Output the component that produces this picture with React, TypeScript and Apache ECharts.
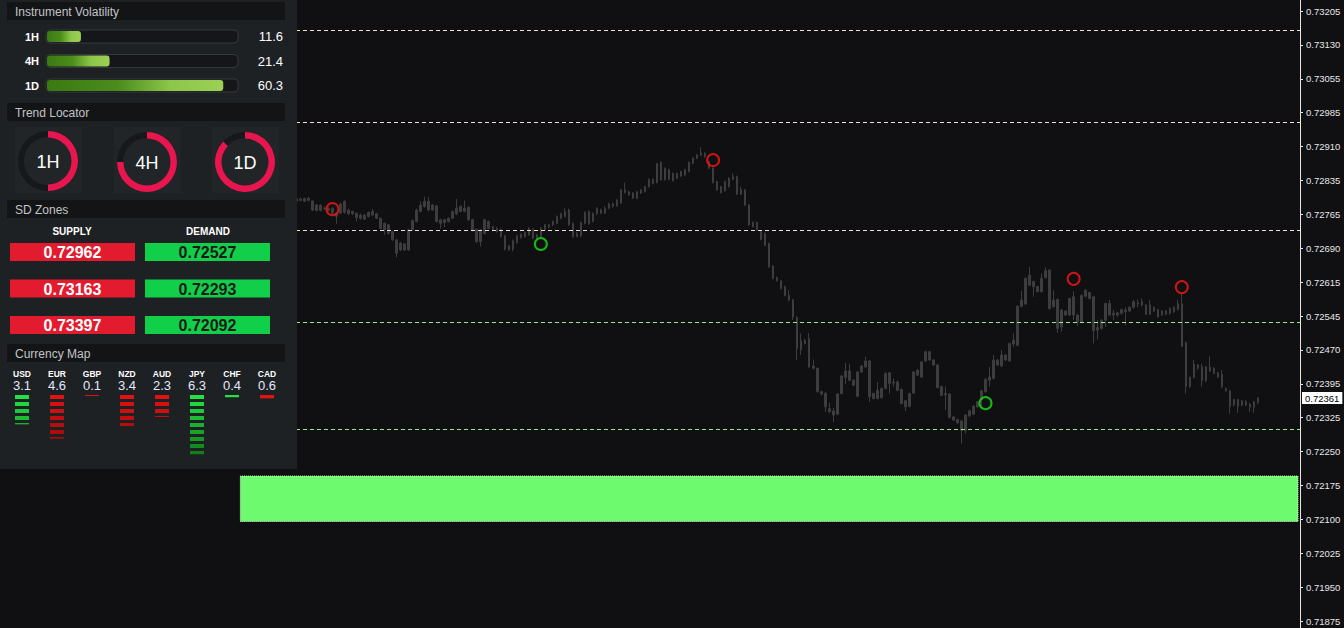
import React, { useEffect, useRef } from 'react';
import * as echarts from 'echarts';

// ---------- data ----------
const yTickLabels = ['0.71875','0.71950','0.72025','0.72100','0.72175','0.72250','0.72325','0.72395','0.72470','0.72545','0.72615','0.72690','0.72765','0.72835','0.72910','0.72985','0.73055','0.73130','0.73205'];
const priceMin = 0.71875;
const priceMax = 0.73205;
const totalBars = 324;
const firstBar = 73;

// [open, close, low, high]
const ohlc: number[][] = [
[0.72796,0.72790,0.72788,0.72798],[0.72792,0.72795,0.72790,0.72798],[0.72796,0.72790,0.72789,0.72798],[0.72792,0.72797,0.72790,0.72799],
[0.72791,0.72771,0.72769,0.72792],[0.72770,0.72782,0.72768,0.72784],[0.72781,0.72770,0.72768,0.72784],[0.72775,0.72774,0.72771,0.72779],
[0.72770,0.72775,0.72768,0.72777],[0.72775,0.72764,0.72761,0.72777],[0.72764,0.72757,0.72741,0.72766],[0.72764,0.72784,0.72763,0.72787],
[0.72766,0.72790,0.72763,0.72792],[0.72771,0.72763,0.72760,0.72774],[0.72768,0.72763,0.72760,0.72770],[0.72764,0.72755,0.72746,0.72766],
[0.72753,0.72760,0.72750,0.72763],[0.72760,0.72751,0.72749,0.72763],[0.72757,0.72766,0.72755,0.72768],[0.72760,0.72768,0.72758,0.72773],
[0.72763,0.72753,0.72751,0.72765],[0.72753,0.72731,0.72729,0.72755],[0.72742,0.72728,0.72717,0.72744],[0.72739,0.72720,0.72718,0.72741],
[0.72724,0.72706,0.72704,0.72726],[0.72706,0.72677,0.72668,0.72708],[0.72684,0.72699,0.72682,0.72701],[0.72697,0.72684,0.72682,0.72699],
[0.72684,0.72728,0.72682,0.72730],[0.72728,0.72748,0.72726,0.72750],[0.72746,0.72771,0.72744,0.72774],[0.72768,0.72782,0.72766,0.72790],
[0.72779,0.72790,0.72776,0.72800],[0.72790,0.72771,0.72769,0.72799],[0.72771,0.72782,0.72769,0.72784],[0.72780,0.72746,0.72744,0.72782],
[0.72750,0.72742,0.72731,0.72752],[0.72744,0.72750,0.72734,0.72752],[0.72746,0.72753,0.72744,0.72755],[0.72753,0.72768,0.72751,0.72770],
[0.72763,0.72775,0.72760,0.72795],[0.72768,0.72779,0.72766,0.72781],[0.72775,0.72768,0.72766,0.72792],[0.72777,0.72750,0.72747,0.72779],
[0.72750,0.72726,0.72724,0.72752],[0.72729,0.72702,0.72700,0.72731],[0.72702,0.72728,0.72691,0.72730],[0.72720,0.72750,0.72718,0.72752],
[0.72746,0.72731,0.72729,0.72748],[0.72735,0.72728,0.72726,0.72737],[0.72731,0.72724,0.72722,0.72734],[0.72729,0.72713,0.72711,0.72731],
[0.72715,0.72686,0.72683,0.72717],[0.72693,0.72684,0.72682,0.72695],[0.72686,0.72704,0.72681,0.72707],[0.72700,0.72715,0.72698,0.72717],
[0.72711,0.72718,0.72709,0.72720],[0.72713,0.72722,0.72711,0.72724],[0.72717,0.72731,0.72715,0.72734],[0.72729,0.72710,0.72707,0.72731],
[0.72717,0.72709,0.72707,0.72719],[0.72713,0.72731,0.72711,0.72734],[0.72729,0.72739,0.72727,0.72741],[0.72734,0.72739,0.72731,0.72741],
[0.72739,0.72746,0.72736,0.72748],[0.72742,0.72757,0.72740,0.72759],[0.72753,0.72763,0.72751,0.72765],[0.72757,0.72768,0.72755,0.72775],
[0.72771,0.72739,0.72736,0.72774],[0.72742,0.72713,0.72711,0.72744],[0.72713,0.72720,0.72712,0.72723],[0.72715,0.72744,0.72712,0.72746],
[0.72742,0.72766,0.72740,0.72768],[0.72768,0.72741,0.72739,0.72770],[0.72746,0.72764,0.72744,0.72766],[0.72763,0.72775,0.72760,0.72777],
[0.72771,0.72764,0.72762,0.72774],[0.72764,0.72775,0.72762,0.72779],[0.72775,0.72784,0.72773,0.72787],[0.72779,0.72784,0.72776,0.72787],
[0.72780,0.72793,0.72778,0.72795],[0.72786,0.72815,0.72784,0.72817],[0.72815,0.72809,0.72807,0.72831],[0.72811,0.72804,0.72802,0.72813],
[0.72808,0.72797,0.72795,0.72810],[0.72797,0.72811,0.72795,0.72813],[0.72808,0.72815,0.72806,0.72817],[0.72811,0.72822,0.72809,0.72824],
[0.72822,0.72838,0.72820,0.72840],[0.72838,0.72829,0.72827,0.72840],[0.72831,0.72872,0.72829,0.72874],[0.72875,0.72837,0.72835,0.72877],
[0.72837,0.72862,0.72835,0.72864],[0.72859,0.72838,0.72836,0.72861],[0.72851,0.72835,0.72833,0.72853],[0.72840,0.72851,0.72838,0.72853],
[0.72845,0.72855,0.72843,0.72857],[0.72848,0.72859,0.72845,0.72861],[0.72855,0.72875,0.72853,0.72877],[0.72873,0.72884,0.72871,0.72886],
[0.72884,0.72891,0.72882,0.72893],[0.72891,0.72895,0.72889,0.72908],[0.72895,0.72888,0.72885,0.72897],[0.72877,0.72862,0.72860,0.72879],
[0.72862,0.72831,0.72829,0.72864],[0.72833,0.72815,0.72813,0.72835],[0.72809,0.72822,0.72807,0.72824],[0.72813,0.72833,0.72811,0.72835],
[0.72822,0.72840,0.72820,0.72843],[0.72838,0.72844,0.72836,0.72851],[0.72844,0.72806,0.72804,0.72846],[0.72806,0.72815,0.72804,0.72822],
[0.72815,0.72782,0.72780,0.72817],[0.72782,0.72739,0.72736,0.72784],[0.72744,0.72735,0.72733,0.72746],[0.72744,0.72728,0.72726,0.72746],
[0.72724,0.72707,0.72705,0.72726],[0.72720,0.72694,0.72692,0.72722],[0.72698,0.72647,0.72645,0.72700],[0.72649,0.72622,0.72620,0.72651],
[0.72624,0.72617,0.72615,0.72626],[0.72617,0.72600,0.72598,0.72619],[0.72604,0.72585,0.72583,0.72606],[0.72585,0.72575,0.72572,0.72596],
[0.72575,0.72538,0.72531,0.72577],[0.72537,0.72469,0.72444,0.72539],[0.72466,0.72486,0.72455,0.72502],[0.72487,0.72480,0.72478,0.72490],
[0.72491,0.72429,0.72427,0.72503],[0.72431,0.72426,0.72423,0.72445],[0.72426,0.72375,0.72373,0.72428],[0.72375,0.72370,0.72367,0.72377],
[0.72371,0.72342,0.72331,0.72375],[0.72338,0.72331,0.72329,0.72351],[0.72333,0.72324,0.72309,0.72340],[0.72326,0.72370,0.72324,0.72372],
[0.72371,0.72409,0.72369,0.72411],[0.72406,0.72420,0.72391,0.72438],[0.72420,0.72400,0.72398,0.72436],[0.72400,0.72389,0.72387,0.72402],
[0.72365,0.72418,0.72363,0.72420],[0.72418,0.72431,0.72416,0.72433],[0.72429,0.72442,0.72427,0.72451],[0.72442,0.72364,0.72353,0.72444],
[0.72371,0.72360,0.72358,0.72373],[0.72360,0.72378,0.72358,0.72396],[0.72362,0.72382,0.72360,0.72384],[0.72382,0.72415,0.72380,0.72417],
[0.72416,0.72393,0.72371,0.72418],[0.72396,0.72394,0.72386,0.72404],[0.72396,0.72378,0.72376,0.72399],[0.72380,0.72349,0.72347,0.72382],
[0.72355,0.72342,0.72333,0.72357],[0.72343,0.72371,0.72341,0.72373],[0.72372,0.72418,0.72370,0.72420],[0.72411,0.72422,0.72409,0.72424],
[0.72407,0.72440,0.72405,0.72442],[0.72442,0.72462,0.72440,0.72464],[0.72462,0.72444,0.72442,0.72464],[0.72444,0.72433,0.72431,0.72446],
[0.72433,0.72384,0.72382,0.72435],[0.72386,0.72367,0.72365,0.72388],[0.72371,0.72368,0.72335,0.72386],[0.72370,0.72319,0.72317,0.72372],
[0.72320,0.72313,0.72311,0.72322],[0.72314,0.72307,0.72305,0.72317],[0.72311,0.72290,0.72262,0.72314],[0.72290,0.72324,0.72284,0.72326],
[0.72322,0.72333,0.72319,0.72336],[0.72326,0.72343,0.72324,0.72346],[0.72342,0.72353,0.72340,0.72355],[0.72357,0.72377,0.72338,0.72379],
[0.72375,0.72402,0.72373,0.72404],[0.72400,0.72407,0.72386,0.72429],[0.72404,0.72444,0.72402,0.72455],[0.72444,0.72433,0.72431,0.72446],
[0.72431,0.72455,0.72429,0.72466],[0.72455,0.72444,0.72442,0.72457],[0.72442,0.72480,0.72440,0.72482],[0.72479,0.72487,0.72473,0.72502],
[0.72476,0.72561,0.72474,0.72564],[0.72561,0.72575,0.72559,0.72595],[0.72566,0.72622,0.72564,0.72624],[0.72607,0.72629,0.72605,0.72647],
[0.72615,0.72604,0.72582,0.72617],[0.72604,0.72593,0.72591,0.72606],[0.72593,0.72622,0.72591,0.72633],[0.72624,0.72639,0.72622,0.72646],
[0.72640,0.72556,0.72554,0.72642],[0.72560,0.72575,0.72558,0.72596],[0.72576,0.72513,0.72503,0.72578],[0.72516,0.72553,0.72506,0.72555],
[0.72551,0.72542,0.72540,0.72553],[0.72542,0.72578,0.72540,0.72580],[0.72582,0.72542,0.72531,0.72594],[0.72542,0.72527,0.72518,0.72544],
[0.72527,0.72585,0.72525,0.72587],[0.72583,0.72596,0.72581,0.72599],[0.72591,0.72578,0.72576,0.72593],[0.72582,0.72508,0.72480,0.72584],
[0.72509,0.72515,0.72489,0.72531],[0.72513,0.72531,0.72511,0.72533],[0.72531,0.72567,0.72516,0.72569],[0.72567,0.72542,0.72540,0.72575],
[0.72546,0.72542,0.72531,0.72553],[0.72542,0.72547,0.72538,0.72549],[0.72546,0.72554,0.72543,0.72556],[0.72553,0.72549,0.72520,0.72559],
[0.72551,0.72559,0.72549,0.72561],[0.72559,0.72571,0.72556,0.72575],[0.72569,0.72566,0.72559,0.72576],[0.72564,0.72571,0.72561,0.72578],
[0.72564,0.72544,0.72542,0.72566],[0.72544,0.72564,0.72542,0.72575],[0.72559,0.72551,0.72549,0.72561],[0.72554,0.72538,0.72536,0.72556],
[0.72542,0.72551,0.72540,0.72553],[0.72551,0.72544,0.72542,0.72553],[0.72546,0.72556,0.72543,0.72559],[0.72549,0.72559,0.72547,0.72561],
[0.72554,0.72567,0.72552,0.72575],[0.72567,0.72474,0.72472,0.72589],[0.72482,0.72386,0.72371,0.72484],[0.72386,0.72406,0.72383,0.72408],
[0.72406,0.72435,0.72404,0.72444],[0.72433,0.72426,0.72423,0.72435],[0.72429,0.72400,0.72386,0.72436],[0.72399,0.72429,0.72396,0.72431],
[0.72429,0.72420,0.72418,0.72452],[0.72426,0.72415,0.72413,0.72428],[0.72416,0.72407,0.72405,0.72418],[0.72413,0.72386,0.72383,0.72422],
[0.72382,0.72377,0.72375,0.72384],[0.72377,0.72343,0.72327,0.72379],[0.72346,0.72358,0.72343,0.72360],[0.72358,0.72343,0.72329,0.72360],
[0.72346,0.72355,0.72343,0.72357],[0.72353,0.72346,0.72343,0.72357],[0.72348,0.72341,0.72331,0.72350],[0.72341,0.72353,0.72329,0.72355],
[0.72351,0.72361,0.72348,0.72363],
];

const supplyLevels = [0.72962, 0.73163, 0.73397];
const demandLevels = [0.72527, 0.72293, 0.72092];
const pivotLevel = 0.72726;
const zoneLow = 0.72092;
const zoneHigh = 0.72191;
const zoneStartBar = 59;
const currentPrice = 0.72361;
const sellSignals = [[82, 0.72773], [177, 0.72880], [267, 0.72621], [294, 0.72603]];
const buySignals = [[134, 0.72697], [245, 0.72350]];

const volFrames = ['1H', '4H', '1D'];
const volValues = [11.6, 21.4, 60.3];
const trendFrames = ['1H', '4H', '1D'];
const trendPct = [50, 75, 87];
const currencies = ['USD', 'EUR', 'GBP', 'NZD', 'AUD', 'JPY', 'CHF', 'CAD'];
const currencyValues = [3.1, 4.6, 0.1, 3.4, 2.3, 6.3, 0.4, 0.6];
const currencyUp = [true, false, false, false, false, true, true, false];

// ---------- panel ----------
const FONT = "'Liberation Sans', Arial, sans-serif";
const Z = 100;

function txt(x: number, y: number, text: string, font: string, fill: string, align = 'left') {
  return {
    type: 'text', z: Z, x, y,
    style: { text, font, fill, align, verticalAlign: 'middle', textAlign: align, textVerticalAlign: 'middle' },
  };
}
function rect(x: number, y: number, w: number, h: number, fill: any, extra: any = {}) {
  return { type: 'rect', z: Z, shape: { x, y, width: w, height: h, r: extra.r || 0 }, style: { fill, stroke: extra.stroke, lineWidth: extra.lineWidth || 0 } };
}
function lerpColor(a: number[], b: number[], t: number) {
  const c = a.map((v, i) => Math.round(v + (b[i] - v) * t));
  return `rgb(${c[0]},${c[1]},${c[2]})`;
}

function buildPanel() {
  const els: any[] = [];
  els.push(rect(0, 0, 297, 469, '#1e2124'));
  const header = (y: number, label: string) => {
    els.push(rect(7, y, 278, 18, '#131416'));
    els.push(txt(15, y + 9.5, label, `12px ${FONT}`, '#c2c4c7'));
  };
  // Instrument volatility
  header(2, 'Instrument Volatility');
  const volMax = 65;
  volFrames.forEach((f, i) => {
    const cy = 36.5 + i * 24.5;
    els.push(txt(39, cy, f, `bold 11px ${FONT}`, '#ffffff', 'right'));
    els.push(rect(46, cy - 6.5, 192, 13, '#151619', { r: 4, stroke: '#35383c', lineWidth: 1 }));
    const w = (volValues[i] / volMax) * 190;
    els.push(rect(47, cy - 5.5, w, 11, new echarts.graphic.LinearGradient(0, 0, 1, 0, [
      { offset: 0, color: '#3a7a12' }, { offset: 0.4, color: '#4b8c1c' }, { offset: 0.7, color: '#8cc64a' }, { offset: 1, color: '#9dd055' },
    ]), { r: 3 }));
    els.push(txt(283, cy, volValues[i].toFixed(1), `13px ${FONT}`, '#ffffff', 'right'));
  });
  // Trend locator
  header(103, 'Trend Locator');
  const centers = [[48, 161], [147, 162], [245, 162]];
  trendFrames.forEach((f, i) => {
    const [cx, cy] = centers[i];
    els.push(rect(cx - 33, 127, 67, 66, '#222528'));
    els.push({ type: 'ring', z: Z, shape: { cx, cy, r: 30, r0: 24 }, style: { fill: '#17181b' } });
    els.push({
      type: 'sector', z: Z,
      shape: { cx, cy, r: 30, r0: 23.5, startAngle: -Math.PI / 2, endAngle: -Math.PI / 2 + (2 * Math.PI * trendPct[i]) / 100, clockwise: true },
      style: { fill: '#e8164f' },
    });
    els.push(txt(cx, cy + 1, f, `18px ${FONT}`, '#ffffff', 'center'));
  });
  // SD zones
  header(200, 'SD Zones');
  els.push(txt(72, 231, 'SUPPLY', `bold 10px 'Liberation Sans Narrow', ${FONT}`, '#ffffff', 'center'));
  els.push(txt(208, 231, 'DEMAND', `bold 10px 'Liberation Sans Narrow', ${FONT}`, '#ffffff', 'center'));
  supplyLevels.forEach((v, i) => {
    const y = 243 + i * 36.5;
    els.push(rect(10, y, 125, 18, '#e31b2e'));
    els.push(txt(72.5, y + 9.5, v.toFixed(5), `bold 16px ${FONT}`, '#ffffff', 'center'));
  });
  demandLevels.forEach((v, i) => {
    const y = 243 + i * 36.5;
    els.push(rect(145, y, 125, 18, '#12cf4a'));
    els.push(txt(207.5, y + 9.5, v.toFixed(5), `bold 16px ${FONT}`, '#1a1a1a', 'center'));
  });
  // Currency map
  header(344, 'Currency Map');
  const barsPerUnit = 1.4;
  currencies.forEach((c, k) => {
    const cx = 22 + 35 * k;
    els.push(txt(cx, 373.5, c, `bold 8.5px ${FONT}`, '#ffffff', 'center'));
    els.push(txt(cx, 385, currencyValues[k].toFixed(1), `13px ${FONT}`, '#e2e8ff', 'center'));
    const n = currencyValues[k] * barsPerUnit;
    const full = Math.floor(n);
    const frac = n - full;
    const top = currencyUp[k] ? [35, 224, 70] : [226, 18, 18];
    const bot = currencyUp[k] ? [16, 128, 24] : [140, 8, 8];
    for (let b = 0; b <= full; b++) {
      const h = b < full ? 4 : Math.max(1, frac * 4);
      if (b === full && frac <= 0) break;
      els.push(rect(cx - 7, 395 + 7 * b, 14, h, lerpColor(top, bot, Math.min(1, b / 8))));
    }
  });
  // axis line full height
  els.push({ type: 'line', z: 50, shape: { x1: 1300.5, y1: 0, x2: 1300.5, y2: 628 }, style: { stroke: '#e6e6e6', lineWidth: 1 } });
  return els;
}

export default function App() {
  const ref = useRef<HTMLDivElement>(null);
  useEffect(() => {
    if (!ref.current) return;
    const chart = echarts.init(ref.current, undefined, { renderer: 'svg' });
    const cats = Array.from({ length: totalBars }, (_, i) => String(i));
    const candleData: any[] = Array.from({ length: totalBars }, (_, i) => {
      const r = ohlc[i - firstBar];
      return r ? r : ['-', '-', '-', '-'];
    });
    const inRange = (v: number) => v >= priceMin && v <= priceMax;
    const levelLines = [
      ...supplyLevels.filter(inRange).map((v) => ({ yAxis: v, color: '#f4dfca' })),
      { yAxis: pivotLevel, color: '#f4dfca' },
      ...demandLevels.filter((v) => inRange(v) && v > zoneHigh).map((v) => ({ yAxis: v, color: '#8ef08a' })),
    ].map((l) => ({ yAxis: l.yAxis, lineStyle: { color: l.color, type: [4, 3], width: 1, opacity: 1 }, label: { show: false } }));

    const gray = '#3d3d3d';
    const option: any = {
      animation: false,
      backgroundColor: '#101013',
      grid: { left: 2, right: 44, top: 11, bottom: 7 },
      xAxis: { type: 'category', data: cats, show: false, boundaryGap: true },
      yAxis: [
        { type: 'value', min: priceMin, max: priceMax, position: 'right', show: false, scale: true },
        {
          type: 'value', min: 0, max: yTickLabels.length - 1, interval: 1, position: 'right',
          axisLine: { show: false },
          axisTick: { show: true, length: 3, lineStyle: { color: '#e6e6e6' } },
          splitLine: { show: false },
          axisLabel: { margin: 6, color: '#e6e6e6', fontSize: 9.5, fontFamily: FONT, formatter: (v: number) => yTickLabels[Math.round(v)] ?? '' },
        },
      ],
      series: [
        {
          type: 'candlestick', yAxisIndex: 0, data: candleData, barWidth: 2,
          itemStyle: { color: gray, color0: gray, borderColor: gray, borderColor0: gray, borderWidth: 1 },
          markLine: {
            silent: true, symbol: ['none', 'none'], animation: false, precision: 5,
            data: [
              ...levelLines,
              {
                yAxis: currentPrice, lineStyle: { color: 'rgba(0,0,0,0)', width: 1, opacity: 1, type: 'solid' },
                label: { show: true, position: 'end', distance: 2, formatter: currentPrice.toFixed(5), backgroundColor: '#ffffff', color: '#000000', padding: [1, 3, 1, 3], fontSize: 9.5, fontFamily: FONT, opacity: 1 },
              },
            ],
          },
          markArea: {
            silent: true, precision: 5,
            itemStyle: { color: '#6efa6e', borderColor: '#d8ffd8', borderWidth: 1, borderType: 'dotted' },
            data: [[{ xAxis: zoneStartBar, yAxis: zoneLow }, { xAxis: totalBars - 1, yAxis: zoneHigh }]],
          },
        },
        {
          type: 'scatter', yAxisIndex: 0, data: sellSignals, symbol: 'circle', symbolSize: 12, silent: true,
          itemStyle: { color: 'rgba(0,0,0,0)', borderColor: '#ff1515', borderWidth: 2 }, z: 5,
        },
        {
          type: 'scatter', yAxisIndex: 0, data: buySignals, symbol: 'circle', symbolSize: 12, silent: true,
          itemStyle: { color: 'rgba(0,0,0,0)', borderColor: '#14e614', borderWidth: 2 }, z: 5,
        },
      ],
      graphic: { elements: buildPanel() },
    };
    chart.setOption(option);
    return () => chart.dispose();
  }, []);
  return <div ref={ref} style={{ position: 'fixed', left: 0, top: 0, width: 1344, height: 628, background: '#101013' }} />;
}
